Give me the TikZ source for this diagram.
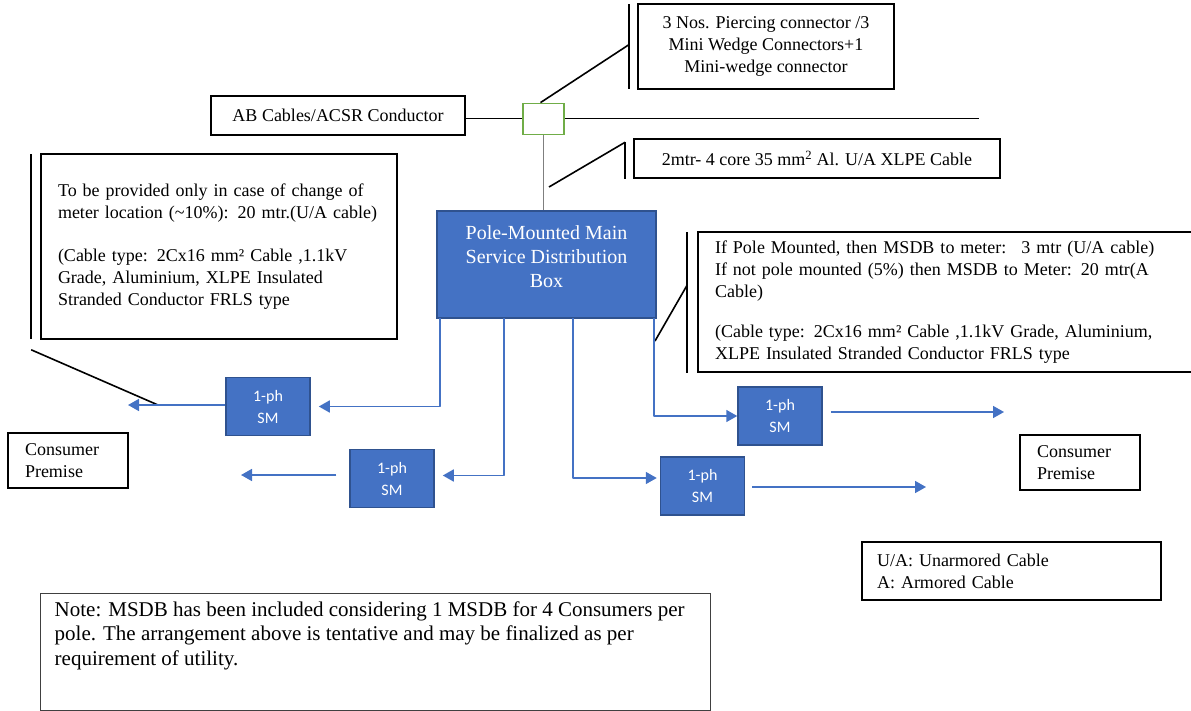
\documentclass[tikz,border=0pt]{standalone}
\usepackage{fontspec}
\setmainfont{Liberation Serif}
\newfontfamily\meterfont{Carlito}
\usepackage{tikz}
\usetikzlibrary{arrows.meta, calc}
\usepackage{xcolor}
\definecolor{OfficeBlue}{HTML}{4472C4}
\definecolor{DeepBlue}{HTML}{2F528F}
\definecolor{WedgeGreen}{HTML}{70AD47}
\definecolor{PoleGrey}{HTML}{7F7F7F}
\definecolor{NoteGrey}{HTML}{404040}
\tikzset{%
  text_box/.style={%
    rectangle,%
    draw=black,%
    line width=1.6pt,%
    inner sep=0pt,%
    font={\fontsize{18}{22}\selectfont},%
    align=center%
  },
  side_box/.style={%
    text_box,%
    line width=1.3pt,%
    align=left%
  },
  note_box/.style={%
    rectangle,%
    draw=NoteGrey,%
    line width=1pt,%
  },
  note_text/.style={%
    inner sep=0pt,%
    font={\fontsize{21}{24.5}\selectfont},%
    align=left%
  },
  wedge_box/.style={%
    rectangle,%
    draw=WedgeGreen,%
    line width=1.8pt,%
    fill=white,%
    minimum width=41pt,%
    minimum height=31pt%
  },
  main_block/.style={%
    rectangle,%
    draw=DeepBlue,%
    fill=OfficeBlue,%
    line width=1.5pt,%
    minimum width=219pt,%
    minimum height=107pt%
  },
  main_label/.style={%
    text=white,%
    inner sep=0pt,%
    font={\fontsize{20}{24}\selectfont},%
    align=center%
  },
  meter_block/.style={%
    rectangle,%
    draw=DeepBlue,%
    fill=OfficeBlue,%
    line width=1.5pt,%
    minimum width=84pt,%
    minimum height=58pt,%
    text=white,%
    font={\meterfont\fontsize{16}{22}\selectfont},%
    align=center%
  },
  feed_path/.style={%
    color=OfficeBlue,%
    line width=1.7pt,%
    line join=round%
  },
  line_path/.style={%
    color=black,%
    line width=0.9pt%
  },
  pole_path/.style={%
    color=PoleGrey,%
    line width=1.4pt%
  },
  callout_path/.style={%
    color=black,%
    line width=1.6pt%
  },
  callout_bar/.style={%
    color=black,%
    line width=2.3pt%
  },
  arrow/.style={-{Triangle[length=11pt, width=12pt]}},
}
\begin{document}
\begin{tikzpicture}[x=1pt, y=-1pt]
    \useasboundingbox (0,0) rectangle (1191,711);

    \node [text_box, minimum width=256pt, minimum height=85pt] (Connectors) at (766,46.5) {%
      3 Nos. Piercing connector /3\\Mini Wedge Connectors+1\\Mini-wedge connector%
    };
    \node [text_box, minimum width=254pt, minimum height=39pt] (ABCable) at (338,115.5) {%
      AB Cables/ACSR Conductor%
    };
    \node [wedge_box] (Wedge) at (543.5,119) {};
    \node [text_box, minimum width=366pt, minimum height=39pt] (ServiceCable) at (817,158.5) {%
      2mtr- 4 core 35 mm\textsuperscript{2} Al. U/A XLPE Cable%
    };
    \node [text_box, minimum width=356pt, minimum height=185pt, text width=322pt, align=left] (LeftNote) at (219,246.5) {%
      To be provided only in case of change of\\
      meter location (\textasciitilde10\%): 20 mtr.(U/A cable)\\[21pt]
      (Cable type: 2Cx16 mm² Cable ,1.1kV\\
      Grade, Aluminium, XLPE Insulated\\
      Stranded Conductor FRLS type%
    };
    \node [main_block] (MSDB) at (546.5,264.5) {};
    \node [main_label] (MSDB_label) at ([yshift=8pt]MSDB.center) {%
      Pole-Mounted Main\\Service Distribution\\Box%
    };
    \node [text_box, minimum width=495pt, minimum height=140pt, text width=461pt, align=left] (RightNote) at (945.5,302) {%
      If Pole Mounted, then MSDB to meter: \ 3 mtr (U/A cable)\\
      If not pole mounted (5\%) then MSDB to Meter: 20 mtr(A\\
      Cable)\\[18pt]
      (Cable type: 2Cx16 mm² Cable ,1.1kV Grade, Aluminium,\\
      XLPE Insulated Stranded Conductor FRLS type%
    };

    \node [meter_block] (SM1) at (268,406.5) {1-ph\\SM};
    \node [meter_block] (SM2) at (392,478.5) {1-ph\\SM};
    \node [meter_block] (SM3) at (780,416) {1-ph\\SM};
    \node [meter_block] (SM4) at (702.5,486) {1-ph\\SM};

    \node [side_box, minimum width=120pt, minimum height=55pt, text width=86pt] (ConsumerLeft) at (68,460.5) {%
      Consumer\\Premise%
    };
    \node [side_box, minimum width=120pt, minimum height=55pt, text width=86pt] (ConsumerRight) at (1080,462.5) {%
      Consumer\\Premise%
    };
    \node [side_box, minimum width=299pt, minimum height=58pt, text width=269pt] (Legend) at (1011.5,571) {%
      U/A: Unarmored Cable\\A: Armored Cable%
    };
    \node [note_box, minimum width=670pt, minimum height=117pt] (Note) at (375,651.5) {};
    \node [note_text, anchor=north west] (Note_text) at ($(Note.north west)+(15,9)$) {%
      Note: MSDB has been included considering 1 MSDB for 4 Consumers per\\
      pole. The arrangement above is tentative and may be finalized as per\\
      requirement of utility.%
    };

    \coordinate (LineEnd) at (979,118);
    \coordinate (PoleTap) at (549,187);
    \coordinate (Tap1) at (440,318);
    \coordinate (Tap2) at (504,318);
    \coordinate (Tap3) at (573,318);
    \coordinate (Tap4) at (654,318);
    \coordinate (Out1) at (128,405);
    \coordinate (Out2) at (241,475);
    \coordinate (Out3) at (1004,412);
    \coordinate (Out4) at (926,487);
    \coordinate (Tip1) at (158,405);
    \coordinate (Tip4) at (655,341);

    \draw [line_path]
      (ABCable.east |- LineEnd)
      --
      (Wedge.west |- LineEnd);
    \draw [line_path]
      (Wedge.east |- LineEnd)
      --
      (LineEnd);
    \draw [pole_path]
      (Wedge.south)
      --
      (Wedge.south |- MSDB.north);

    \draw [callout_bar]
      ([xshift=-8pt, yshift=-1pt]Connectors.north west)
      --
      ([xshift=-8pt, yshift=1pt]Connectors.south west);
    \draw [callout_path]
      ([xshift=-3pt]Wedge.north)
      --
      ([xshift=-8pt, yshift=2pt]Connectors.west);
    \draw [callout_bar]
      ([xshift=-8pt, yshift=-4pt]ServiceCable.north west)
      --
      ([xshift=-8pt]ServiceCable.south west);
    \draw [callout_path]
      (PoleTap)
      --
      ([xshift=-8pt, yshift=-4pt]ServiceCable.north west);
    \draw [callout_bar]
      ([xshift=-9pt, yshift=-1pt]LeftNote.north west)
      --
      ([xshift=-9pt, yshift=1pt]LeftNote.south west);
    \draw [callout_path]
      ([xshift=-9pt, yshift=-10pt]LeftNote.south west)
      --
      (Tip1);
    \draw [callout_bar]
      ([xshift=-10pt, yshift=-1pt]RightNote.north west)
      --
      ([xshift=-10pt]RightNote.south west);
    \draw [callout_path]
      (Tip4)
      --
      ([xshift=-10pt, yshift=17pt]RightNote.west);

    \draw [arrow, feed_path, shorten >=8pt]
      (Tap1)
      |-
      (SM1.east);
    \draw [arrow, feed_path, shorten >=8pt]
      (Tap2)
      |-
      ([yshift=3pt]SM2.east);
    \draw [arrow, feed_path, shorten >=3pt]
      (Tap3)
      |-
      ([yshift=8pt]SM4.west);
    \draw [arrow, feed_path]
      (Tap4)
      |-
      (SM3.west);
    \draw [arrow, feed_path]
      (SM1.west |- Out1)
      --
      (Out1);
    \draw [arrow, feed_path, shorten <=13pt]
      (SM2.west |- Out2)
      --
      (Out2);
    \draw [arrow, feed_path, shorten <=8pt]
      (SM3.east |- Out3)
      --
      (Out3);
    \draw [arrow, feed_path, shorten <=7pt]
      (SM4.east |- Out4)
      --
      (Out4);
\end{tikzpicture}
\end{document}
